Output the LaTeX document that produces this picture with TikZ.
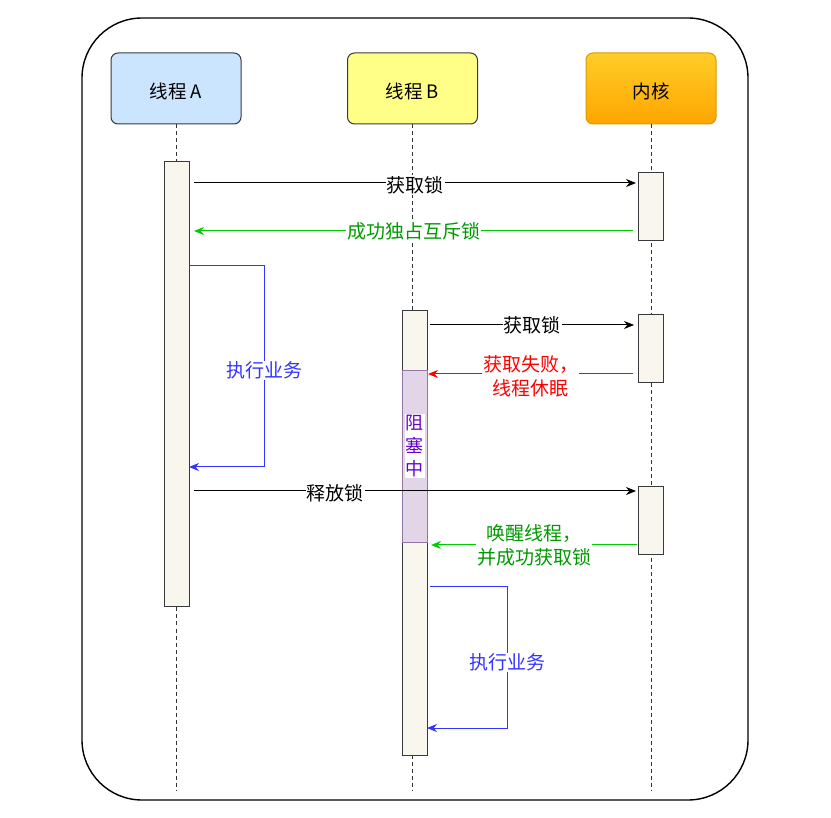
\documentclass[tikz,border=0pt]{standalone}
\usepackage{fontspec}
\setmainfont{Noto Sans CJK SC}
\usetikzlibrary{arrows.meta}
\definecolor{boxstroke}{HTML}{36393D}
\definecolor{afill}{HTML}{CCE5FF}
\definecolor{bfill}{HTML}{FFFF88}
\definecolor{ktop}{HTML}{FFCD28}
\definecolor{kbot}{HTML}{FFA500}
\definecolor{kstroke}{HTML}{D79B00}
\definecolor{barfill}{HTML}{F9F7ED}
\definecolor{blkfill}{HTML}{E1D5E7}
\definecolor{blkstroke}{HTML}{9673A6}
\definecolor{blktext}{HTML}{6600CC}
\definecolor{okline}{HTML}{00CC00}
\definecolor{oktext}{HTML}{009900}
\definecolor{failred}{HTML}{FF0000}
\definecolor{workblue}{HTML}{3333FF}
\tikzset{
  hdr/.style={draw=boxstroke, line width=1pt, rounded corners=7pt, minimum width=130pt, minimum height=71pt, font=\fontsize{18.5}{22}\selectfont, inner sep=0pt},
  bar/.style={draw=boxstroke, line width=1pt, fill=barfill, minimum width=25pt, inner sep=0pt},
  life/.style={draw=black!80, dashed, dash pattern=on 4pt off 3pt, line width=1pt},
  msg/.style={-{Stealth[length=10pt,width=8pt]}, line width=1pt},
  lbl/.style={fill=white, inner sep=1pt, font=\fontsize{19}{24}\selectfont, align=center},
}
\begin{document}
\begin{tikzpicture}[x=1pt,y=-1pt]
\useasboundingbox (0,0) rectangle (831,818);
\node[draw=black, line width=1.4pt, rounded corners=60pt, minimum width=666pt, minimum height=782pt, inner sep=0pt] (frame) at (415,409) {};

\node[hdr, fill=afill] (A) at (176,88.5) {};
\node[hdr, fill=bfill] (B) at (412.5,88.5) {};
\node[hdr, draw=kstroke, top color=ktop, bottom color=kbot] (K) at (651,88.5) {};
\node[font=\fontsize{18.5}{22}\selectfont, inner sep=0pt] (At) at (176,91) {线程 A};
\node[font=\fontsize{18.5}{22}\selectfont, inner sep=0pt] (Bt) at (412.5,91) {线程 B};
\node[font=\fontsize{18.5}{22}\selectfont, inner sep=0pt] (Kt) at (651,91) {内核};

\coordinate (Aend) at (176,790);
\coordinate (Bend) at (412.5,790);
\coordinate (Kend) at (651,790);
\draw[life] (A.south) -- (Aend);
\draw[life] (B.south) -- (Bend);
\draw[life] (K.south) -- (Kend);

% activation bars
\node[bar, minimum height=444pt] (barA) at (176.5,384) {};
\node[bar, minimum height=444pt] (barB) at (414.5,533) {};
\node[bar, minimum height=68pt] (k1) at (651,207) {};
\node[bar, minimum height=68pt] (k2) at (651,349) {};
\node[bar, minimum height=67pt] (k3) at (651,520.5) {};

% blocked region
\node[draw=blkstroke, line width=1pt, fill=blkfill, minimum width=25pt, minimum height=172pt, inner sep=0pt] (blk) at (414.5,457) {};
\node[fill=white, inner sep=1pt, text=blktext, font=\fontsize{18}{23}\selectfont, align=center] (blktxt) at (414.5,446) {阻\\塞\\中};

% 1 acquire lock
\coordinate (m1s) at (194,183);
\coordinate (m1e) at (636,183);
\draw[msg] (m1s) -- node[lbl, pos=0.5, yshift=-2pt] (l1) {获取锁} (m1e);

% 2 success
\coordinate (m2s) at (633,231);
\coordinate (m2e) at (194,231);
\draw[msg, draw=okline] (m2s) -- node[lbl, text=oktext, pos=0.5] (l2) {成功独占互斥锁} (m2e);

% 3 A does work
\coordinate (w1s) at (189,266);
\coordinate (w1c) at (264,266);
\coordinate (w1d) at (264,467);
\coordinate (w1e) at (189,467);
\draw[msg, draw=workblue] (w1s) -- (w1c) -- node[lbl, text=workblue, pos=0.52] (l3) {执行业务} (w1d) -- (w1e);

% 4 B acquire lock
\coordinate (m4s) at (430,325);
\coordinate (m4e) at (634,325);
\draw[msg] (m4s) -- node[lbl, pos=0.5] (l4) {获取锁} (m4e);

% 5 fail, sleep
\coordinate (m5s) at (633,374);
\coordinate (m5e) at (428,374);
\draw[msg, draw=failred] (m5s) -- node[lbl, text=failred, pos=0.5, yshift=-2pt] (l5) {获取失败，\\线程休眠} (m5e);

% 6 release lock
\coordinate (m6s) at (194,491);
\coordinate (m6e) at (636,491);
\draw[msg] (m6s) -- node[lbl, pos=0.32, yshift=-2pt] (l6) {释放锁} (m6e);

% 7 wake up
\coordinate (m7s) at (637,545);
\coordinate (m7e) at (431,545);
\draw[msg, draw=okline] (m7s) -- node[lbl, text=oktext, pos=0.5] (l7) {唤醒线程，\\并成功获取锁} (m7e);

% 8 B does work
\coordinate (w2s) at (430,586);
\coordinate (w2c) at (507,586);
\coordinate (w2d) at (507,728);
\coordinate (w2e) at (427,728);
\draw[msg, draw=workblue] (w2s) -- (w2c) -- node[lbl, text=workblue, pos=0.54] (l8) {执行业务} (w2d) -- (w2e);
\end{tikzpicture}
\end{document}
